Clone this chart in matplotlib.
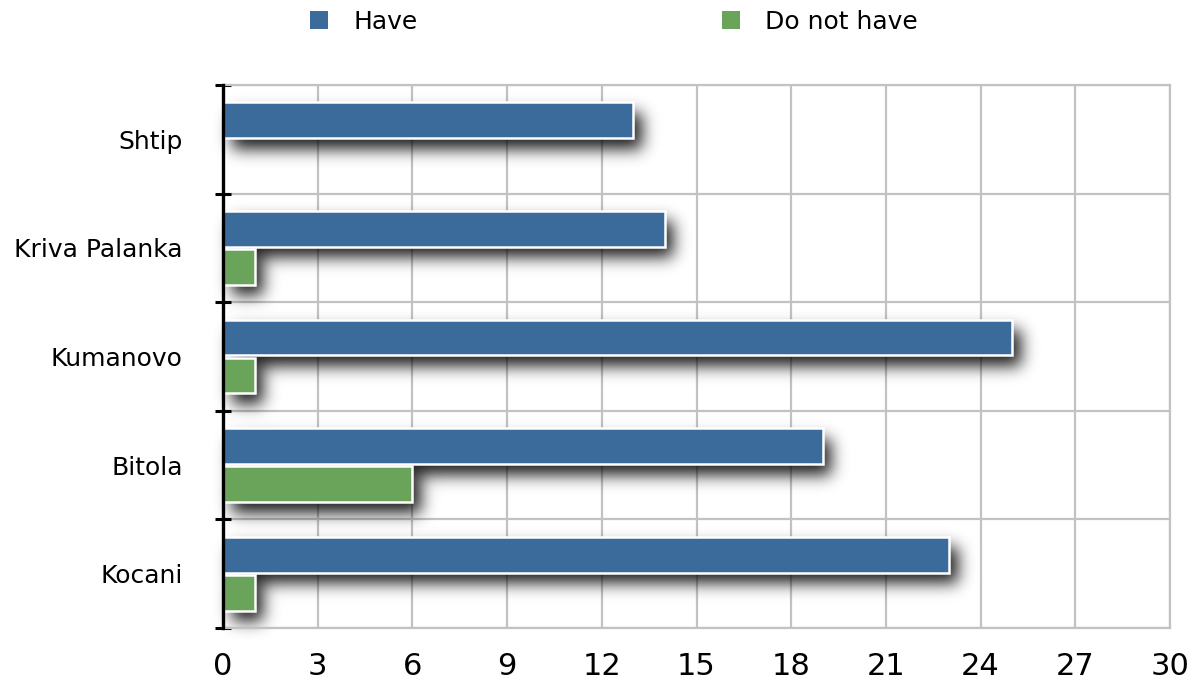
import numpy as np
import matplotlib
matplotlib.use("Agg")
import matplotlib.pyplot as plt
from matplotlib.patches import Patch

cities = ["Shtip", "Kriva Palanka", "Kumanovo", "Bitola", "Kocani"]
have = [13, 14, 25, 19, 23]
do_not_have = [0, 1, 1, 6, 1]
xticks = [0, 3, 6, 9, 12, 15, 18, 21, 24, 27, 30]

blue = "#3b6b9b"
green = "#6aa45a"
grid_c = "#c2c2c2"

W, H = 1195, 681
fig = plt.figure(figsize=(W / 100, H / 100), dpi=100)
ax = fig.add_axes([223 / W, 1 - 628 / H, (1170 - 223) / W, (628 - 85) / H])

y = np.arange(len(cities))
bh = 0.33
off = 0.175
xmax = 30
ylo, yhi = -0.5, len(cities) - 0.5
ax.set_xlim(0, xmax)
ax.set_ylim(yhi, ylo)

# soft drop shadow under the bars, built as a blurred mask in pixel space
aw, ah = 1170 - 223, 628 - 85
pad = 60
mask = np.zeros((ah + 2 * pad, aw + 2 * pad))
dx, dy = 9, 11
for vals, sign in ((have, -1), (do_not_have, 1)):
    for i, v in enumerate(vals):
        if v <= 0:
            continue
        x1 = v / xmax * aw
        yc = i + sign * off
        r0 = (yc - bh / 2 - ylo) / (yhi - ylo) * ah
        r1 = (yc + bh / 2 - ylo) / (yhi - ylo) * ah
        mask[int(r0) + pad + dy:int(r1) + pad + dy, pad + dx:int(x1) + pad + dx] = 1
sig = 8.0
k = np.arange(-26, 27)
kern = np.exp(-k ** 2 / (2 * sig ** 2))
kern /= kern.sum()
mask = np.apply_along_axis(lambda r: np.convolve(r, kern, mode="same"), 1, mask)
mask = np.apply_along_axis(lambda c: np.convolve(c, kern, mode="same"), 0, mask)
rgba = np.zeros(mask.shape + (4,))
rgba[..., 3] = np.clip(mask * 0.9, 0, 1)
px = xmax / aw
py = (yhi - ylo) / ah
ax.imshow(rgba, extent=(-pad * px, xmax + pad * px, yhi + pad * py, ylo - pad * py),
          aspect="auto", zorder=1, interpolation="bilinear", clip_on=False)
ax.set_xlim(0, xmax)
ax.set_ylim(yhi, ylo)

ax.barh(y - off, have, height=bh, color=blue, edgecolor="white", linewidth=1.8, zorder=2)
dn = np.array(do_not_have)
ax.barh(y[dn > 0] + off, dn[dn > 0], height=bh, color=green, edgecolor="white",
        linewidth=1.8, zorder=2)

# grid
ax.set_xticks(xticks)
ax.set_xticklabels([str(t) for t in xticks], fontsize=22)
ax.tick_params(axis="x", length=0, pad=17)
ax.set_yticks(np.arange(len(cities) + 1) - 0.5)
ax.set_yticklabels([])
ax.set_yticks(y, minor=True)
ax.set_yticklabels(cities, minor=True, fontsize=18)
ax.tick_params(axis="y", which="major", direction="inout", length=12, width=2.2, color="black")
ax.tick_params(axis="y", which="minor", length=0, pad=29)
ax.set_axisbelow(True)
ax.grid(True, which="major", color=grid_c, linewidth=1.6)

for s in ("top", "right", "bottom"):
    ax.spines[s].set_color(grid_c)
    ax.spines[s].set_linewidth(1.6)
ax.spines["left"].set_color("black")
ax.spines["left"].set_linewidth(2.4)
ax.spines["left"].set_zorder(5)

handles = [Patch(facecolor=blue, label="Have"), Patch(facecolor=green, label="Do not have")]
fig.legend(handles=handles, loc="center", bbox_to_anchor=(614 / W, 1 - 22 / H), ncol=2,
           frameon=False, fontsize=18, handlelength=0.72, handleheight=0.72,
           handletextpad=1.0, columnspacing=12.2)

fig.savefig("out.png", dpi=100)
